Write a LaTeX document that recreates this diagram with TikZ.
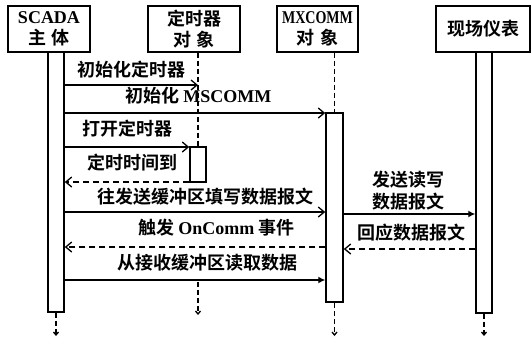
\documentclass[tikz,border=0pt]{standalone}
\usepackage{fontspec}
\usepackage{graphicx}
\setmainfont{Liberation Serif}
\newfontfamily\cjk{Noto Sans CJK SC}[BoldFont={Noto Sans CJK SC Bold}]
\usetikzlibrary{arrows.meta}
\begin{document}
\begin{tikzpicture}[x=1pt,y=-1pt,
  every node/.style={font=\cjk\fontsize{18}{21}\selectfont\bfseries},
  obj/.style={draw, line width=1.5pt, inner sep=0pt, align=center},
  act/.style={draw, line width=1.5pt, inner sep=0pt, fill=white},
  lbl/.style={anchor=west, inner sep=0pt},
  msg/.style={line width=1.3pt},
  ret/.style={line width=1.3pt, dash pattern=on 6pt off 4pt},
  life/.style={line width=1.3pt, dash pattern=on 5pt off 3pt},
  openhead/.style={-{Straight Barb[length=6pt,width=10pt]}},
  fillhead/.style={-{Latex[length=7pt,width=7pt]}},
  tailhead/.style={-{Straight Barb[length=3pt,width=5pt]}},
]
\path[use as bounding box] (0,0) rectangle (532,338);

% object boxes
\node[obj, minimum width=82pt, minimum height=46pt] (A) at (49,29) {{\rmfamily SCADA}\\主\,\,体};
\node[obj, minimum width=92pt, minimum height=46pt] (B) at (194,29) {定时器\\对\,\,象};
\node[obj, minimum width=81pt, minimum height=46pt] (C) at (317.5,29) {{\rmfamily\scalebox{0.78}[1]{MXCOMM}}\\对\,\,象};
\node[obj, minimum width=94pt, minimum height=46pt] (D) at (483,29) {现场仪表};

% activation bars
\node[act, minimum width=16pt, minimum height=260pt] (Aact) at (56,182) {};
\node[act, minimum width=16pt, minimum height=35pt] (Bact) at (198,164.5) {};
\node[act, minimum width=17pt, minimum height=189pt] (Cact) at (334.5,207.5) {};
\node[act, minimum width=16pt, minimum height=261pt] (Dact) at (484,182.5) {};

% lifelines
\draw[life] (Bact.north |- B.south) -- (Bact.north);
\draw[life] (Cact.north |- C.south) -- (Cact.north);
\coordinate (Aend) at (56,336);
\coordinate (Bt1) at (198,282);
\coordinate (Bend) at (198,315);
\coordinate (Cend) at (334.5,336);
\coordinate (Dend) at (484,336);
\draw[life, tailhead] (Aact.south) -- (Aend);
\draw[life, tailhead] (Bt1) -- (Bend);
\draw[life, tailhead] (Cact.south) -- (Cend);
\draw[life, tailhead] (Dact.south) -- (Dend);

% message levels
\coordinate (y1) at (0,85);
\coordinate (y2) at (0,113);
\coordinate (y3) at (0,147);
\coordinate (y4) at (0,182);
\coordinate (y5) at (0,212);
\coordinate (y6) at (0,247);
\coordinate (y7) at (0,280);
\coordinate (y8) at (0,214);
\coordinate (y9) at (0,249);

\draw[msg, openhead] (y1 -| Aact.east) -- (y1 -| Bact.north);
\draw[msg, openhead] (y2 -| Aact.east) -- (y2 -| Cact.west);
\draw[msg, openhead] (y3 -| Aact.east) -- (y3 -| Bact.west);
\draw[ret, openhead] (y4 -| Bact.west) -- (y4 -| Aact.east);
\draw[msg, openhead] (y5 -| Aact.east) -- (y5 -| Cact.west);
\draw[ret, openhead] (y6 -| Cact.west) -- (y6 -| Aact.east);
\draw[msg, fillhead] (y7 -| Aact.east) -- (y7 -| Cact.west);
\draw[msg, fillhead] (y8 -| Cact.east) -- (y8 -| Dact.west);
\draw[ret, openhead] (y9 -| Dact.west) -- (y9 -| Cact.east);

% labels
\node[lbl] (l1) at (77,70) {初始化定时器};
\node[lbl] (l2) at (125,96) {初始化 {\rmfamily MSCOMM}};
\node[lbl] (l3) at (82,129) {打开定时器};
\node[lbl] (l4) at (87,163) {定时时间到};
\node[lbl] (l5) at (97,197) {往发送缓冲区填写数据报文};
\node[lbl] (l6) at (138,228) {触发 {\rmfamily OnComm} 事件};
\node[lbl] (l7) at (117,263) {从接收缓冲区读取数据};
\node[align=center, inner sep=0pt, font=\cjk\fontsize{18}{22}\selectfont\bfseries] (l8) at (408,191) {发送读写\\数据报文};
\node[lbl] (l9) at (357,233) {回应数据报文};
\end{tikzpicture}
\end{document}
